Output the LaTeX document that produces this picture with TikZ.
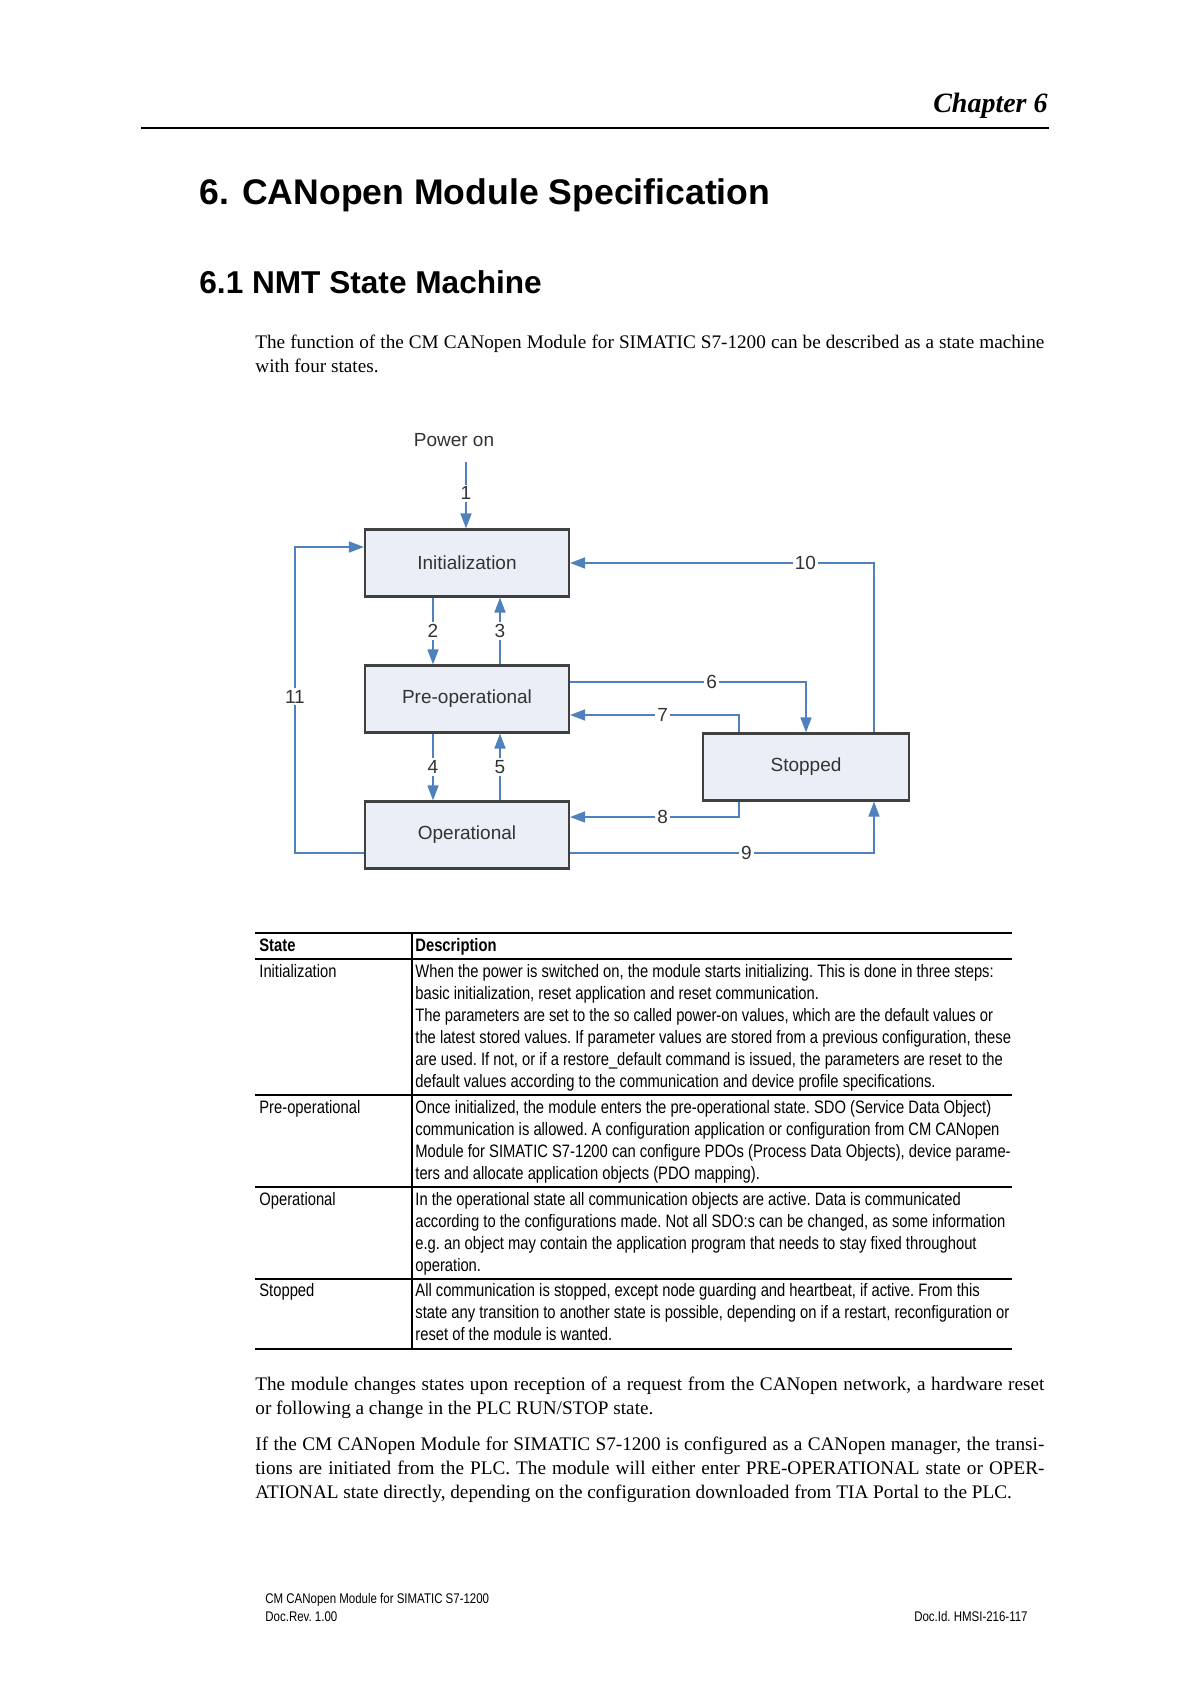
\documentclass[tikz,border=0pt]{standalone}
\usepackage{fontspec}
\setmainfont{Liberation Serif}
\setsansfont{Liberation Sans}
\newfontfamily\narrowsf[FakeStretch=0.82]{Liberation Sans}
\usepackage{tikz}
\usetikzlibrary{positioning,arrows.meta}
\definecolor{boxfill}{RGB}{233,238,247}
\definecolor{boxline}{RGB}{64,64,64}
\definecolor{arrowblue}{RGB}{79,129,189}
\definecolor{labelgray}{RGB}{51,51,51}

\tikzset{
  statebox/.style={rectangle, draw=boxline, fill=boxfill, line width=1.1pt, minimum width=102pt, minimum height=33.5pt, inner sep=0pt, font=\sffamily\fontsize{9.5}{11}\selectfont, text=labelgray},
  trans/.style={draw=arrowblue, line width=0.8pt, -{Triangle[length=7.5pt,width=5.5pt]}},
  numlbl/.style={fill=white, inner sep=1pt, font=\sffamily\fontsize{9.5}{11}\selectfont, text=labelgray},
  bodytext/.style={anchor=base west, inner sep=0pt, text width=394.5pt, align=justify, font=\fontsize{9.6}{12}\selectfont},
  cell/.style={anchor=base west, inner sep=0pt, text width=310pt, align=flush left, font=\narrowsf\fontsize{9}{11}\selectfont\frenchspacing},
  headcell/.style={cell, font=\narrowsf\bfseries\fontsize{9}{11}\selectfont},
  tablerule/.style={line width=0.6pt},
  foot/.style={anchor=base west, inner sep=0pt, font=\narrowsf\fontsize{7}{8.5}\selectfont\frenchspacing}
}

\begin{document}
\begin{tikzpicture}[x=0.5pt, y=-0.5pt]
  \useasboundingbox[fill=white] (0,0) rectangle (1190,1684);

  % page head
  \node[anchor=base east, inner sep=0pt, font=\bfseries\itshape\fontsize{14}{16}\selectfont] (chap) at (1048,113) {Chapter 6};
  \draw[line width=1pt] (141,128) -- (1049,128);
  \node[anchor=base west, inner sep=0pt, font=\sffamily\bfseries\fontsize{17.8}{21}\selectfont] (sec) at (199,205) {6. CANopen Module Specification};
  \node[anchor=base west, inner sep=0pt, font=\sffamily\bfseries\fontsize{15.8}{19}\selectfont] (subsec) at (199,294) {6.1 NMT State Machine};
  \node[bodytext] (intro) at (255,349) {The function of the CM CANopen Module for SIMATIC S7-1200 can be described as a state machine\linebreak with four states.};

  % state machine
  \node[inner sep=0pt, font=\sffamily\fontsize{9.5}{11}\selectfont, text=labelgray] (poweron) at (454,440) {Power on};
  \coordinate (pwrtop) at (466,462);
  \node[statebox] (init) at (467,563) {Initialization};
  \node[statebox, below=33.4pt of init] (preop) {Pre-operational};
  \node[statebox, below=33.4pt of preop] (oper) {Operational};
  \node[statebox, minimum width=103pt] (stopped) at (806,767) {Stopped};

  \draw[trans] (pwrtop) -- node[numlbl, pos=0.47] (t1) {1} (pwrtop |- init.north);
  \draw[trans] ([xshift=-17pt]init.south) -- node[numlbl] (t2) {2} ([xshift=-17pt]preop.north);
  \draw[trans] ([xshift=16.5pt]preop.north) -- node[numlbl] (t3) {3} ([xshift=16.5pt]init.south);
  \draw[trans] ([xshift=-17pt]preop.south) -- node[numlbl] (t4) {4} ([xshift=-17pt]oper.north);
  \draw[trans] ([xshift=16.5pt]oper.north) -- node[numlbl] (t5) {5} ([xshift=16.5pt]preop.south);
  \draw[trans] ([yshift=8.5pt]preop.east) -| node[numlbl, pos=0.3] (t6) {6} (stopped.north);
  \draw[trans] ([xshift=-33.5pt]stopped.north) |- node[numlbl, pos=0.726] (t7) {7} ([yshift=-8pt]preop.east);
  \draw[trans] ([xshift=-33.5pt]stopped.south) |- node[numlbl, pos=0.726] (t8) {8} ([yshift=9pt]oper.east);
  \draw[trans] ([yshift=-9pt]oper.east) -| node[numlbl, pos=0.29] (t9) {9} ([xshift=34pt]stopped.south);
  \draw[trans] ([xshift=34pt]stopped.north) |- node[numlbl, pos=0.613] (t10) {10} (init.east);
  \draw[trans] ([yshift=-9pt]oper.west) -- ++(-34.5pt,0) |- node[numlbl, pos=0.255] (t11) {11} ([yshift=8pt]init.west);

  % state table
  \draw[tablerule] (255,933) -- (1012,933);
  \draw[tablerule] (255,959) -- (1012,959);
  \draw[tablerule] (255,1095) -- (1012,1095);
  \draw[tablerule] (255,1187) -- (1012,1187);
  \draw[tablerule] (255,1279) -- (1012,1279);
  \draw[tablerule] (255,1349) -- (1012,1349);
  \draw[tablerule] (412,933) -- (412,1349);
  \node[headcell] (hstate) at (259,951) {State};
  \node[headcell] (hdesc) at (415,951) {Description};
  \node[cell] (sinit) at (259,977) {Initialization};
  \node[cell] (dinit) at (415,977) {When the power is switched on, the module starts initializing. This is done in three steps:\\
    basic initialization, reset application and reset communication.\\
    The parameters are set to the so called power-on values, which are the default values or\\
    the latest stored values. If parameter values are stored from a previous configuration, these\\
    are used. If not, or if a restore\_default command is issued, the parameters are reset to the\\
    default values according to the communication and device profile specifications.};
  \node[cell] (spreop) at (259,1113) {Pre-operational};
  \node[cell] (dpreop) at (415,1113) {Once initialized, the module enters the pre-operational state. SDO (Service Data Object)\\
    communication is allowed. A configuration application or configuration from CM CANopen\\
    Module for SIMATIC S7-1200 can configure PDOs (Process Data Objects), device parame-\\
    ters and allocate application objects (PDO mapping).};
  \node[cell] (soper) at (259,1205) {Operational};
  \node[cell] (doper) at (415,1205) {In the operational state all communication objects are active. Data is communicated\\
    according to the configurations made. Not all SDO:s can be changed, as some information\\
    e.g. an object may contain the application program that needs to stay fixed throughout\\
    operation.};
  \node[cell] (sstop) at (259,1296) {Stopped};
  \node[cell] (dstop) at (415,1296) {All communication is stopped, except node guarding and heartbeat, if active. From this\\
    state any transition to another state is possible, depending on if a restart, reconfiguration or\\
    reset of the module is wanted.};

  % closing text
  \node[bodytext] (para2) at (255,1390) {The module changes states upon reception of a request from the CANopen network, a hardware reset\linebreak or following a change in the PLC RUN/STOP state.};
  \node[bodytext] (para3) at (255,1450) {If the CM CANopen Module for SIMATIC S7-1200 is configured as a CANopen manager, the transi-\linebreak tions are initiated from the PLC. The module will either enter PRE-OPERATIONAL state or OPER-\linebreak ATIONAL state directly, depending on the configuration downloaded from TIA Portal to the PLC.};

  % page foot
  \node[foot] (foot1) at (265,1603) {CM CANopen Module for SIMATIC S7-1200};
  \node[foot] (foot2) at (265,1621) {Doc.Rev. 1.00};
  \node[foot, anchor=base east] (foot3) at (1028,1621) {Doc.Id. HMSI-216-117};
\end{tikzpicture}
\end{document}
